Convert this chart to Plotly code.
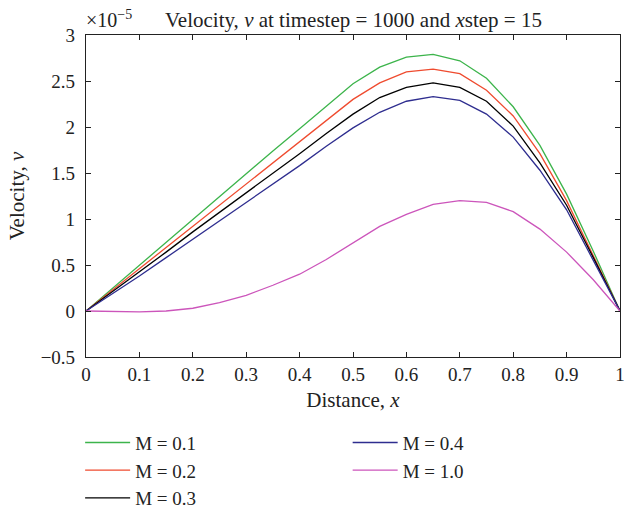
import plotly.graph_objects as go

x = [round(0.05 * i, 2) for i in range(21)]

# velocity values in units of 1e-5
v_m01 = [0, 0.25, 0.50, 0.75, 1.00, 1.24, 1.49, 1.74, 1.98, 2.23, 2.47,
         2.65, 2.76, 2.79, 2.72, 2.53, 2.22, 1.80, 1.27, 0.65, 0]
v_m02 = [0, 0.23, 0.46, 0.69, 0.92, 1.15, 1.38, 1.61, 1.84, 2.07, 2.30,
         2.48, 2.60, 2.63, 2.58, 2.40, 2.12, 1.71, 1.20, 0.60, 0]
v_m03 = [0, 0.21, 0.43, 0.64, 0.86, 1.07, 1.28, 1.50, 1.71, 1.93, 2.14,
         2.32, 2.43, 2.48, 2.43, 2.28, 2.01, 1.61, 1.15, 0.58, 0]
v_m04 = [0, 0.19, 0.38, 0.58, 0.78, 0.98, 1.18, 1.38, 1.58, 1.79, 1.99,
         2.16, 2.28, 2.33, 2.29, 2.14, 1.89, 1.53, 1.10, 0.55, 0]
v_m10 = [0, -0.005, -0.01, 0.0, 0.03, 0.09, 0.17, 0.28, 0.40, 0.56, 0.74,
         0.92, 1.05, 1.16, 1.20, 1.18, 1.08, 0.89, 0.64, 0.34, 0]

series = [
    ("M = 0.1", v_m01, "#3cb44b", "legend"),
    ("M = 0.2", v_m02, "#ef4b2f", "legend"),
    ("M = 0.3", v_m03, "#000000", "legend"),
    ("M = 0.4", v_m04, "#2e2d8f", "legend2"),
    ("M = 1.0", v_m10, "#cc55bb", "legend2"),
]

xticks = [round(0.1 * i, 1) for i in range(11)]
xticktext = ["0", "0.1", "0.2", "0.3", "0.4", "0.5", "0.6", "0.7", "0.8", "0.9", "1"]
yticks = [-0.5, 0, 0.5, 1, 1.5, 2, 2.5, 3]
yticktext = ["\u22120.5", "0", "0.5", "1", "1.5", "2", "2.5", "3"]

FONT = "Liberation Serif"

fig = go.Figure()
for name, vals, col, lg in series:
    fig.add_trace(go.Scatter(x=x, y=vals, mode="lines", name=name,
                             line=dict(color=col, width=1.3), legend=lg))

axis_common = dict(showline=True, linecolor="#222", linewidth=1.2, mirror="allticks",
                   ticks="inside", ticklen=5, tickcolor="#222", showgrid=False,
                   zeroline=False, ticklabeloverflow="allow",
                   tickfont=dict(family=FONT, size=19, color="#222"))

fig.update_layout(
    width=624, height=507,
    margin=dict(l=86, r=4, t=35, b=150, autoexpand=False),
    plot_bgcolor="white", paper_bgcolor="white",
    font=dict(family=FONT, size=19, color="#222"),
    xaxis=dict(range=[0, 1], tickvals=xticks, ticktext=xticktext, ticklabelstandoff=0,
               title=dict(text="Distance, <i>x</i>", font=dict(family=FONT, size=21), standoff=8),
               **axis_common),
    yaxis=dict(range=[-0.5, 3], tickvals=yticks, ticktext=yticktext, ticklabelstandoff=6,
               title=dict(text="Velocity, <i>v</i>", font=dict(family=FONT, size=21), standoff=10),
               **axis_common),
    legend=dict(x=-0.011, y=-0.207, xanchor="left", yanchor="top", orientation="v",
                font=dict(family=FONT, size=19), tracegroupgap=0, itemwidth=45,
                bgcolor="rgba(0,0,0,0)"),
    legend2=dict(x=0.49, y=-0.207, xanchor="left", yanchor="top", orientation="v",
                 font=dict(family=FONT, size=19), tracegroupgap=0, itemwidth=45,
                 bgcolor="rgba(0,0,0,0)"),
    showlegend=True,
    annotations=[
        dict(text="\u00d710<sup>\u22125</sup>", xref="paper", yref="paper", x=0.0, y=1.0,
             xanchor="left", yanchor="bottom", showarrow=False, yshift=2, xshift=-2,
             font=dict(family=FONT, size=20)),
        dict(text="Velocity, <i>v</i> at timestep = 1000 and <i>x</i>step = 15",
             xref="paper", yref="paper", x=0.5, y=1.0, xanchor="center", yanchor="bottom",
             showarrow=False, yshift=1, font=dict(family=FONT, size=21)),
    ],
)

fig.write_html("out.html")
